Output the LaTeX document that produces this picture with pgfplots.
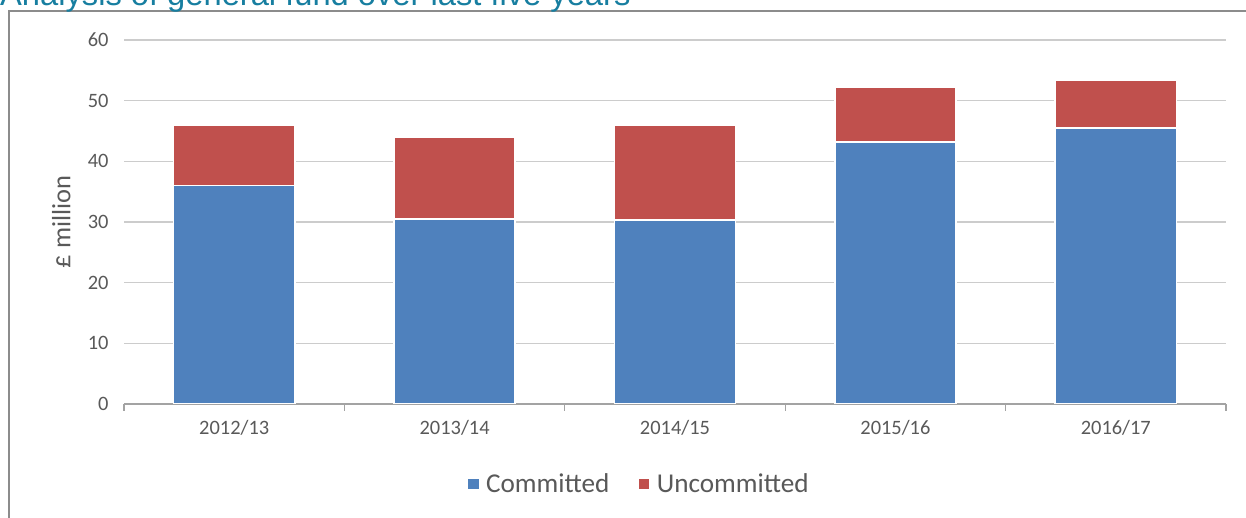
\documentclass[border=0pt]{standalone}
\usepackage{pgfplots}
\pgfplotsset{compat=1.18}
\usepackage{fontspec}
\setmainfont{Carlito}
\newfontfamily\arialfont{Liberation Sans}

\definecolor{commit}{HTML}{4F81BD}
\definecolor{uncommit}{HTML}{C0504D}
\definecolor{txt}{HTML}{595959}
\definecolor{titleteal}{HTML}{177EA0}
\definecolor{gridc}{HTML}{CCCCCC}
\definecolor{framec}{HTML}{8C8C8C}

\begin{document}
\begin{tikzpicture}
\useasboundingbox (0,0) rectangle (1246bp,518bp);

% frame and cut-off title
\draw[framec, line width=1.6bp] (9bp,0) -- (9bp,507bp) -- (1246bp,507bp);
\node[anchor=base west, inner sep=0pt, text=titleteal, font=\arialfont\fontsize{32.8}{36}\selectfont]
  at (0bp,512bp) {Analysis of general fund over last five years};

\begin{axis}[
    at={(124bp,114bp)}, anchor=south west,
    scale only axis, width=1102bp, height=364bp,
    ybar stacked, bar width=0.55,
    xmin=-0.5, xmax=4.5, ymin=0, ymax=60,
    xtick={0,1,2,3,4},
    xticklabels={2012/13,2013/14,2014/15,2015/16,2016/17},
    minor xtick={-0.5,0.5,1.5,2.5,3.5,4.5},
    ytick={0,10,...,60},
    axis x line=bottom, axis y line=left,
    axis line style={-, draw=gridc!80!black, line width=1.2bp},
    y axis line style={draw=none},
    major tick length=0pt, minor tick length=7bp,
    tick align=outside,
    minor tick style={gridc!80!black, line width=1.2bp},
    ymajorgrids, grid style={gridc, line width=1.2bp},
    /pgf/number format/assume math mode=true,
    tick label style={text=txt, font=\fontsize{20.5}{24}\selectfont},
    yticklabel style={xshift=-12bp},
    xticklabel style={yshift=-13bp},
    ylabel={£ million},
    ylabel style={text=txt, font=\fontsize{26.5}{30}\selectfont, anchor=center,
                  at={(axis description cs:-0.057,0.5)}},
    legend columns=2,
    legend style={at={(axis description cs:0.467,-0.22)}, anchor=center, draw=none,
                  font=\fontsize{27.3}{30}\selectfont, text=txt,
                  /tikz/every odd column/.append style={column sep=4bp},
                  /tikz/every even column/.append style={column sep=26bp}},
    legend image code/.code={\fill[#1] (0bp,-6bp) rectangle (12bp,6bp);},
]
\addplot[fill=commit, draw=white, line width=1.5bp] coordinates {(0,36.0) (1,30.5) (2,30.3) (3,43.2) (4,45.5)};
\addplot[fill=uncommit, draw=white, line width=1.5bp] coordinates {(0,10.0) (1,13.5) (2,15.7) (3,9.05) (4,7.9)};
\legend{Committed,Uncommitted}
\end{axis}
\end{tikzpicture}
\end{document}
